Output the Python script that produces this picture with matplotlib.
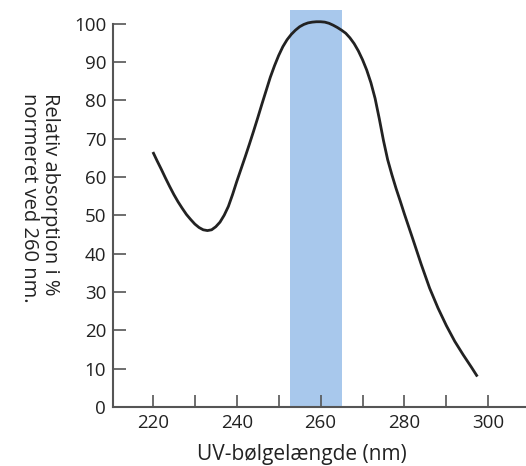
import numpy as np
import matplotlib
matplotlib.use('Agg')
import matplotlib.pyplot as plt

# data
wavelength = [220, 221, 222, 223, 224, 225, 226, 227, 228, 229, 230, 231,
              232, 233, 234, 235, 236, 237, 238, 239, 240, 241, 242, 243,
              244, 245, 246, 247, 248, 249, 250, 251, 252, 253, 254, 255,
              256, 257, 258, 259, 260, 261, 262, 263, 264, 265, 266, 267,
              268, 269, 270, 271, 272, 273, 274, 275, 276, 277, 278, 279,
              280, 282, 284, 286, 288, 290, 292, 294, 296, 297.4]
absorption = [66.5, 64.2, 62.0, 59.7, 57.5, 55.4, 53.5, 51.8, 50.2, 48.9,
              47.7, 46.8, 46.2, 46.0, 46.2, 47.0, 48.2, 50.0, 52.3, 55.4,
              58.8, 62.0, 65.2, 68.5, 71.9, 75.4, 79.0, 82.5, 86.0, 89.0,
              91.7, 94.0, 95.8, 97.2, 98.3, 99.2, 99.8, 100.2, 100.4, 100.5,
              100.5, 100.4, 100.1, 99.6, 99.0, 98.3, 97.5, 96.3, 94.8, 92.9,
              90.6, 87.9, 84.6, 80.5, 75.2, 69.5, 64.5, 60.6, 57.0, 53.7,
              50.3, 43.8, 37.2, 31.0, 25.8, 21.2, 17.1, 13.6, 10.3, 7.9]
band = (252.8, 265.2)

xticks = [220, 230, 240, 250, 260, 270, 280, 290, 300]
xlabels = ['220', '', '240', '', '260', '', '280', '', '300']
yticks = list(range(0, 101, 10))

plt.rcParams['font.family'] = ['Open Sans', 'DejaVu Sans']

fig = plt.figure(figsize=(5.26, 4.66), dpi=100)
ax = fig.add_axes([0.215, 0.127, 0.785, 0.851])

ax.axvspan(band[0], band[1], color='#a8c8ec', lw=0, zorder=1)
ax.plot(wavelength, absorption, color='#222222', lw=2, zorder=3,
        solid_capstyle='butt', solid_joinstyle='round')

ax.set_xlim(210.5, 309)
ax.set_ylim(0, 103.5)
ax.set_xticks(xticks)
ax.set_xticklabels(xlabels)
ax.set_yticks(yticks)

for s in ['top', 'right']:
    ax.spines[s].set_visible(False)
for s in ['left', 'bottom']:
    ax.spines[s].set_color('#555555')
    ax.spines[s].set_linewidth(1.5)
ax.spines['left'].set_bounds(0, 100)

ax.tick_params(direction='in', length=9, width=1.2, color='#555555',
               labelsize=13.5, pad=5, labelcolor='#222222')

ax.set_xlabel('UV-bølgelængde (nm)', fontsize=15, color='#222222')
ax.xaxis.set_label_coords(0.458, -0.095)
fig.text(0.075, 0.80, 'Relativ absorption i %\nnormeret ved 260 nm.',
         rotation=270, va='top', ha='center', multialignment='left',
         fontsize=14.5, color='#222222', linespacing=1.05)

fig.savefig('out.png', dpi=100)
